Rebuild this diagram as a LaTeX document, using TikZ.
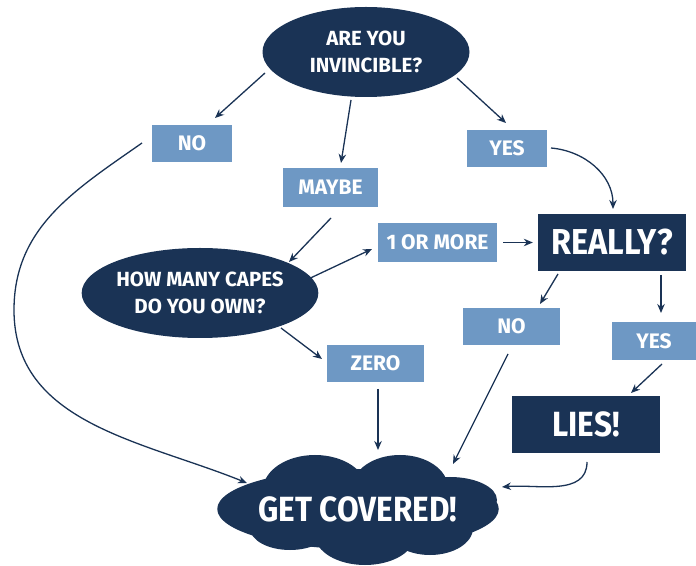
\documentclass[tikz,border=0pt]{standalone}
\usepackage{fontspec}
\setmainfont{Fira Sans}
\newfontfamily\narrowfont{Fira Sans}[FakeStretch=0.9]
\usetikzlibrary{shapes,shapes.geometric}
\usetikzlibrary{arrows.meta}
\usetikzlibrary{positioning}
\definecolor{navy}{HTML}{1A3355}
\definecolor{steel}{HTML}{6E98C4}
\tikzset{question/.style={ellipse,fill=navy,text=white,inner sep=0pt,align=center,
font=\fontsize{20.5}{27}\selectfont\bfseries},
answer/.style={rectangle,fill=steel,text=white,inner sep=0pt,minimum height=37pt,
font=\fontsize{21}{21}\selectfont\bfseries},
verdict/.style={rectangle,fill=navy,text=white,inner sep=0pt,minimum width=148pt,
minimum height=57pt,font=\narrowfont\fontsize{36}{36}\selectfont\bfseries},
puff/.style={fill=navy},
link/.style={draw=navy,line width=1.3pt,->},
>={Stealth[length=9pt,width=7.5pt]}}

\begin{document}
\begin{tikzpicture}[x=1pt,y=1pt]
  \useasboundingbox (0,0) rectangle (696,565);
  \node (invincible) [question,minimum width=207pt,minimum height=90pt] at (366,513)
    {ARE YOU\\INVINCIBLE?};
  \node (no1) [answer,minimum width=80pt] at (192,421.5) {NO};
  \node (maybe) [answer,minimum width=95pt,minimum height=39pt] at (330.5,377.5) {MAYBE};
  \node (yes1) [answer,minimum width=80pt] at (507,416.5) {YES};
  \node (capes) [question,minimum width=210pt,minimum height=90pt] at (200,272)
    {HOW MANY CAPES\\DO YOU OWN?};
  \node (more) [answer,minimum width=119pt,minimum height=39pt] at (437.5,322.5) {1 OR MORE};
  \node (really) [verdict] at (612,322.5) {REALLY?};
  \node (no2) [answer,minimum width=97pt] at (511.5,238.5) {NO};
  \node (yes2) [answer,minimum width=84pt,minimum height=38pt] at (654,224) {YES};
  \node (zero) [answer,minimum width=97pt] at (375.5,201.5) {ZERO};
  \node (lies) [verdict,font=\narrowfont\fontsize{35}{35}\selectfont\bfseries] at (586,140.5) {LIES!};

  % cloud puffs
  \fill [puff] (275,57) ellipse [x radius=52,y radius=25];
  \fill [puff] (315,75) ellipse [x radius=52,y radius=35];
  \fill [puff] (400,77) ellipse [x radius=48,y radius=33];
  \fill [puff] (450,65) ellipse [x radius=47,y radius=23];
  \fill [puff] (430,37) ellipse [x radius=43,y radius=27];
  \fill [puff] (365,30) ellipse [x radius=50,y radius=30];
  \fill [puff] (290,37) ellipse [x radius=40,y radius=22];
  \node (covered) [ellipse,fill=navy,text=white,inner sep=0pt,minimum width=220pt,
    minimum height=80pt,font=\narrowfont\fontsize{35}{35}\selectfont\bfseries] at (358,56) {GET COVERED!};
  \coordinate (farleft) at (14,255);

  \draw [link] ([shift={(-101,-21)}]invincible.center) -- ([shift={(23,25.5)}]no1.center);
  \draw [link] ([shift={(-15,-48)}]invincible.center) -- ([shift={(10.5,24.5)}]maybe.center);
  \draw [link] ([shift={(91,-26)}]invincible.center) -- ([shift={(-1,25.5)}]yes1.center);
  \draw [link] ([shift={(44,0.5)}]yes1.center) to[out=-5,in=90] ([shift={(1,33.5)}]really.center);
  \draw [link] ([shift={(0.5,-30.5)}]maybe.center) -- ([shift={(89,31)}]capes.center);
  \draw [link] ([shift={(102,11)}]capes.center) -- ([shift={(-65.5,-6.5)}]more.center);
  \draw [link] ([xshift=6pt]more.east) -- ([xshift=-5pt]really.west);
  \draw [link] ([shift={(-54,-31.5)}]really.center) -- ([shift={(28.5,22.5)}]no2.center);
  \draw [link] ([shift={(49,-32.5)}]really.center) -- ([shift={(7,28)}]yes2.center);
  \draw [link] ([shift={(8,-23)}]yes2.center) -- ([shift={(45,31.5)}]lies.center);
  \draw [link] ([shift={(81,-35)}]capes.center) -- ([shift={(-53.5,4.5)}]zero.center);
  \draw [link] ([shift={(2.5,-25.5)}]zero.center) -- ([shift={(20,59)}]covered.center);
  \draw [link] ([shift={(-3.5,-27.5)}]no2.center) -- ([shift={(95,45)}]covered.center);
  \draw [link] ([shift={(1,-37.5)}]lies.center) to[out=-90,in=5] ([shift={(144,22)}]covered.center);
  \draw [link] ([shift={(-50,0.5)}]no1.center) to[out=215,in=90] (farleft)
    to[out=-90,in=158] ([shift={(-111,26)}]covered.center);
\end{tikzpicture}
\end{document}
